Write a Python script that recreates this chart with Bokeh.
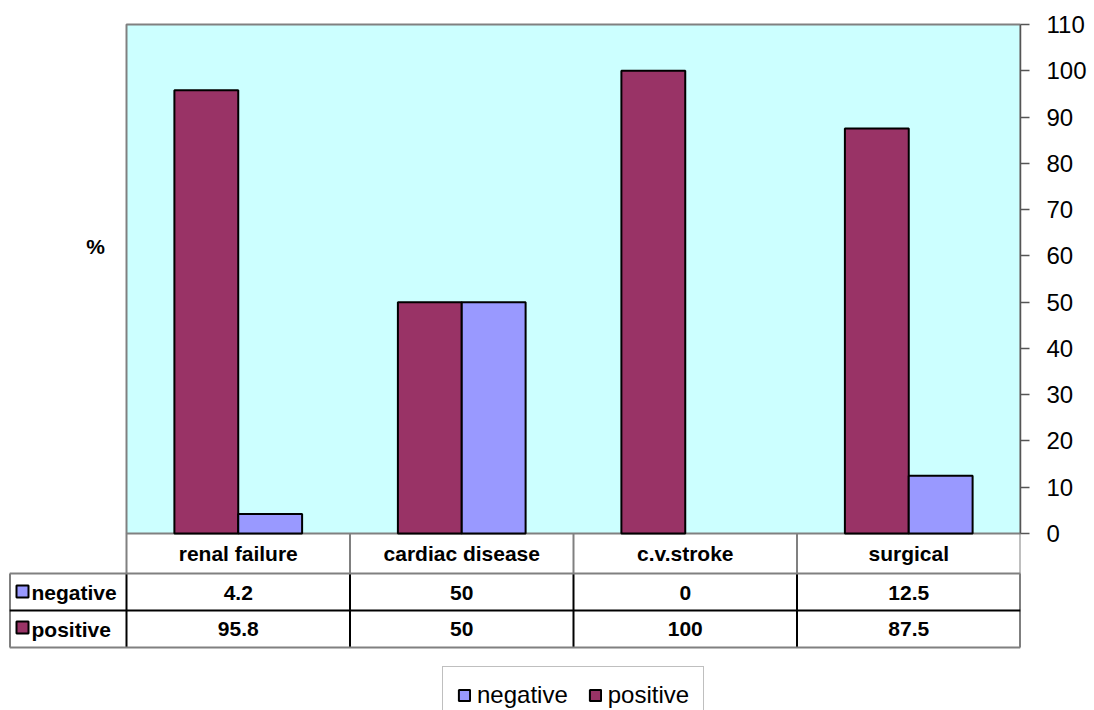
from bokeh.plotting import figure
from bokeh.models import (Range1d, FixedTicker, LinearAxis, Legend, LegendItem,
                          Label, ColumnDataSource)
from bokeh.core.properties import value
from bokeh.embed import file_html
from bokeh.resources import INLINE

# ---- data -------------------------------------------------------------
categories = ["renal failure", "cardiac disease", "c.v.stroke", "surgical"]
negative = [4.2, 50, 0, 12.5]
positive = [95.8, 50, 100, 87.5]
y_ticks = [0, 10, 20, 30, 40, 50, 60, 70, 80, 90, 100, 110]

# ---- page geometry (pixels) -------------------------------------------
W, H = 1094, 710
FRAME_L, FRAME_R, FRAME_T, FRAME_B = 9, 1020, 10, 710
AREA_L, AREA_R = 126, 1020          # plotting area (category span)
Y0_PX, YTOP_PX = 533, 24            # pixel rows of value 0 and value 110
ROW1_PX, ROW2_PX, ROW3_PX = 573, 610, 647
YMAX = 110

n = len(categories)
ux = (AREA_R - AREA_L) / n          # pixels per category unit
uy = (Y0_PX - YTOP_PX) / YMAX       # pixels per value unit


def px_x(px):
    return (px - AREA_L) / ux


def px_y(px):
    return (Y0_PX - px) / uy


FONT = value("Liberation Sans")
POS_COLOR = "#993366"
NEG_COLOR = "#9999FF"
AREA_COLOR = "#CCFFFF"
GRAY = "#808080"

p = figure(width=W, height=H, output_backend="svg", toolbar_location=None,
           x_range=Range1d(px_x(FRAME_L), px_x(FRAME_R)),
           y_range=Range1d(px_y(FRAME_B), px_y(FRAME_T)),
           x_axis_location=None, y_axis_location=None,
           min_border_left=FRAME_L, min_border_right=W - FRAME_R,
           min_border_top=FRAME_T, min_border_bottom=H - FRAME_B)
p.outline_line_color = None
p.xgrid.visible = False
p.ygrid.visible = False
p.background_fill_color = "white"
p.border_fill_color = "white"

# plot area
p.quad(left=[0], right=[n], bottom=[0], top=[YMAX], fill_color=AREA_COLOR,
       line_color=GRAY, line_width=2)

# bars: gap width 150% -> each bar is 1/3.5 of a category
bar_w = 1 / 3.5
centers = [i + 0.5 for i in range(n)]
src = ColumnDataSource(dict(
    xpos=[c - bar_w / 2 for c in centers],
    xneg=[c + bar_w / 2 for c in centers],
    positive=positive, negative=negative,
    # empty bars get no outline
    pos_line=[0 if v == 0 else 1 for v in positive],
    neg_line=[0 if v == 0 else 1 for v in negative],
))
r_pos = p.vbar(x="xpos", width=bar_w, top="positive", bottom=0, source=src,
               fill_color=POS_COLOR, line_color="black", line_width=2,
               line_alpha="pos_line")
r_neg = p.vbar(x="xneg", width=bar_w, top="negative", bottom=0, source=src,
               fill_color=NEG_COLOR, line_color="black", line_width=2,
               line_alpha="neg_line")

# right value axis
ax = LinearAxis(ticker=FixedTicker(ticks=y_ticks), bounds=(0, YMAX))
ax.axis_line_color = "#555555"
ax.axis_line_width = 1.5
ax.major_tick_line_color = "#555555"
ax.major_tick_line_width = 1.5
ax.major_tick_out = 9
ax.major_tick_in = 0
ax.minor_tick_out = 0
ax.minor_tick_in = 0
ax.major_label_standoff = 17
ax.major_label_text_font = "Liberation Sans"
ax.major_label_text_font_size = "24px"
ax.major_label_text_color = "black"
p.add_layout(ax, "right")

# axis title
p.add_layout(Label(x=px_x(95), y=px_y(246), text="%", text_font="Liberation Sans",
                   text_font_style="bold", text_font_size="21px",
                   text_color="black", text_align="center",
                   text_baseline="middle"))

# ---- data table -------------------------------------------------------
xl = px_x(FRAME_L)
r1, r2, r3 = px_y(ROW1_PX), px_y(ROW2_PX), px_y(ROW3_PX)
# header row grid
p.segment(x0=list(range(n + 1)), y0=[0] * (n + 1), x1=list(range(n + 1)),
          y1=[r1] * (n + 1), line_color=GRAY, line_width=2)
# data rows grid
vx = [xl] + list(range(n + 1))
p.segment(x0=vx, y0=[r1] * len(vx), x1=vx, y1=[r3] * len(vx),
          line_color="black", line_width=2)
p.segment(x0=[xl, xl], y0=[r1, r3], x1=[n, n], y1=[r1, r3],
          line_color=GRAY, line_width=2)
p.segment(x0=[xl], y0=[r2], x1=[n], y1=[r2], line_color="black", line_width=2)

txt = dict(text_font=FONT, text_font_style="bold", text_font_size="21px",
           text_baseline="middle", text_color="black")
p.text(x=centers, y=[px_y(553)] * n, text=categories, text_align="center", **txt)
p.text(x=centers, y=[px_y(592)] * n, text=[f"{v:g}" for v in negative],
       text_align="center", **txt)
p.text(x=centers, y=[px_y(628.5)] * n, text=[f"{v:g}" for v in positive],
       text_align="center", **txt)

# row headers with legend keys
p.scatter(x=[px_x(22)] * 2, y=[px_y(591), px_y(627)], marker="square", size=12,
          fill_color=[NEG_COLOR, POS_COLOR], line_color="black", line_width=2)
p.text(x=[px_x(31)] * 2, y=[px_y(592), px_y(628.5)], text=["negative", "positive"],
       text_align="left", **txt)

# ---- legend -----------------------------------------------------------
legend = Legend(items=[LegendItem(label="negative", renderers=[r_neg], index=0),
                       LegendItem(label="positive", renderers=[r_pos], index=0)],
                orientation="horizontal", location=(442 - FRAME_L, -14))
legend.margin = 0
legend.padding = 14
legend.spacing = 20
legend.label_standoff = 6
legend.glyph_width = 14
legend.glyph_height = 14
legend.label_height = 22
legend.label_text_font = "Liberation Sans"
legend.label_text_font_size = "24px"
legend.label_text_color = "black"
legend.border_line_color = GRAY
legend.border_line_width = 1.5
legend.background_fill_color = "white"
legend.background_fill_alpha = 1
p.add_layout(legend)

open("out.html", "w").write(file_html(p, INLINE))
